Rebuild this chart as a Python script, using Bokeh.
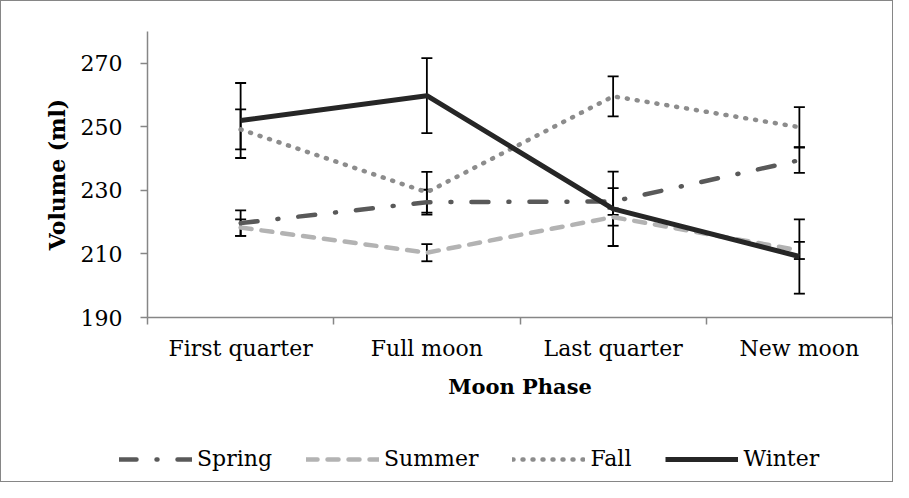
from bokeh.plotting import figure
from bokeh.models import (ColumnDataSource, Whisker, TeeHead, FixedTicker, Range1d,
                          Legend, LegendItem)
from bokeh.embed import file_html
from bokeh.resources import INLINE

phases = ["First quarter", "Full moon", "Last quarter", "New moon"]
spring = [219.7, 226.3, 226.5, 239.5]
spring_err = [4.0, 3.9, 4.2, 4.0]
summer = [218.3, 210.4, 221.6, 211.1]
summer_err = [2.6, 2.7, 2.7, 2.7]
fall = [249.2, 229.4, 259.6, 249.9]
fall_err = [6.3, 6.4, 6.3, 6.3]
winter = [252.0, 259.8, 224.2, 209.2]
winter_err = [11.8, 11.8, 11.7, 11.7]
y_ticks = [190, 210, 230, 250, 270]
y_min, y_max = 190, 280
season_names = ["Spring", "Summer", "Fall", "Winter"]

FONT = "DejaVu Serif"
AXIS_GRAY = "#868686"
W, H = 893, 482

# Layout: the frame fills the whole canvas; the axes are pinned (fixed_location)
# so that the plotting area spans these pixel positions, leaving room for the
# axis texts and the legend inside the frame.
PX_LEFT, PX_RIGHT, PY_TOP, PY_BOTTOM = 146, 891, 30, 316
n = len(phases)
xpp = n / (PX_RIGHT - PX_LEFT)
x0 = -PX_LEFT * xpp
ypp = (y_max - y_min) / (PY_BOTTOM - PY_TOP)
y1 = y_max + PY_TOP * ypp
y0 = y1 - H * ypp

xs = [i + 0.5 for i in range(n)]

p = figure(width=W, height=H, output_backend="svg", toolbar_location=None,
           x_range=Range1d(x0, x0 + W * xpp), y_range=Range1d(y0, y1),
           min_border_left=0, min_border_right=0, min_border_top=0,
           min_border_bottom=0)
p.styles = {"border": "1px solid #868686"}
p.background_fill_color = "white"
p.border_fill_color = "white"
p.outline_line_color = None
p.xgrid.visible = False
p.ygrid.visible = False

# x axis: labels at category centres, ticks at category boundaries
xa = p.xaxis[0]
xa.fixed_location = y_min
xa.bounds = (0, n)
xa.ticker = FixedTicker(ticks=xs, minor_ticks=list(range(n + 1)))
xa.major_label_overrides = {x: name for x, name in zip(xs, phases)}
xa.major_tick_out = 0
xa.major_tick_in = 0
xa.minor_tick_out = 7
xa.minor_tick_in = 0
xa.minor_tick_line_color = AXIS_GRAY
xa.minor_tick_line_width = 1.5
xa.axis_line_color = AXIS_GRAY
xa.axis_line_width = 1.5
xa.major_label_text_font = FONT
xa.major_label_text_font_size = "22px"
xa.major_label_text_color = "black"
xa.major_label_standoff = 11
xa.axis_label = "Moon Phase"
xa.axis_label_text_font = FONT
xa.axis_label_text_font_style = "bold"
xa.axis_label_text_font_size = "21px"
xa.axis_label_text_color = "black"
xa.axis_label_standoff = 10

ya = p.yaxis[0]
ya.fixed_location = 0
ya.bounds = (y_min, y_max)
ya.ticker = FixedTicker(ticks=y_ticks, minor_ticks=[])
ya.major_tick_out = 7
ya.major_tick_in = 0
ya.major_tick_line_color = AXIS_GRAY
ya.major_tick_line_width = 1.5
ya.minor_tick_out = 0
ya.minor_tick_in = 0
ya.axis_line_color = AXIS_GRAY
ya.axis_line_width = 1.5
ya.major_label_text_font = FONT
ya.major_label_text_font_size = "22px"
ya.major_label_text_color = "black"
ya.major_label_standoff = 18
ya.axis_label = "Volume (ml)"
ya.axis_label_text_font = FONT
ya.axis_label_text_font_style = "bold"
ya.axis_label_text_font_size = "22px"
ya.axis_label_text_color = "black"
ya.axis_label_standoff = 8

styles = [
    dict(line_color="#595959", line_width=4.5, line_dash="17 20 1 20", line_cap="round"),
    dict(line_color="#b3b3b3", line_width=4.5, line_dash="11 10", line_cap="round"),
    dict(line_color="#8c8c8c", line_width=4.5, line_dash="1 9", line_cap="round"),
    dict(line_color="#262626", line_width=5, line_join="round"),
]
values = [spring, summer, fall, winter]
errors = [spring_err, summer_err, fall_err, winter_err]

items = []
for name, vals, errs, style in zip(season_names, values, errors, styles):
    src = ColumnDataSource(dict(x=xs, y=vals,
                                upper=[v + e for v, e in zip(vals, errs)],
                                lower=[v - e for v, e in zip(vals, errs)]))
    r = p.line("x", "y", source=src, **style)
    items.append(LegendItem(label=name, renderers=[r]))
    w = Whisker(base="x", upper="upper", lower="lower", source=src,
                line_color="black", line_width=1.8,
                upper_head=TeeHead(size=11, line_color="black", line_width=1.8),
                lower_head=TeeHead(size=11, line_color="black", line_width=1.8))
    p.add_layout(w)

legend = Legend(items=items, orientation="horizontal", location=(118, 12),
                border_line_color=None, background_fill_alpha=0, padding=0,
                margin=0, spacing=34, glyph_width=73, glyph_height=20,
                label_standoff=5, label_height=20,
                label_text_font=FONT, label_text_font_size="22px",
                label_text_color="black")
p.add_layout(legend, "center")

open("out.html", "w").write(file_html(p, INLINE))
